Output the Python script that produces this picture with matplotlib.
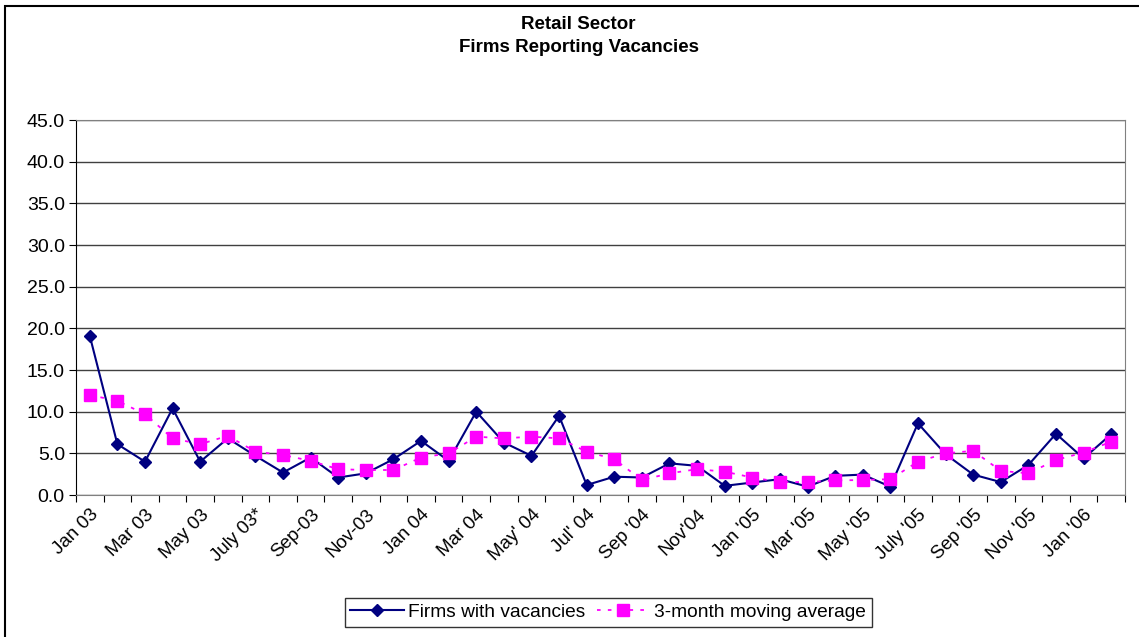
import numpy as np
import matplotlib
matplotlib.use("Agg")
import matplotlib.pyplot as plt
from matplotlib.patches import Rectangle

plt.rcParams['font.family'] = ['Liberation Sans', 'DejaVu Sans']

#  Monthly data, Jan 03 to Feb 06
months = ['Jan 03', 'Feb 03', 'Mar 03', 'Apr 03', 'May 03', 'Jun 03',
          'July 03*', 'Aug 03', 'Sep-03', 'Oct 03', 'Nov-03', 'Dec 03',
          'Jan 04', 'Feb 04', 'Mar 04', 'Apr 04', "May' 04", 'Jun 04',
          "Jul' 04", 'Aug 04', "Sep '04", 'Oct 04', "Nov'04", 'Dec 04',
          "Jan '05", 'Feb 05', "Mar '05", 'Apr 05', "May '05", 'Jun 05',
          "July '05", 'Aug 05', "Sep '05", 'Oct 05', "Nov '05", 'Dec 05',
          "Jan '06", 'Feb 06']

firms = [19.1, 6.1, 4.0, 10.4, 4.0, 6.8, 4.7, 2.7, 4.5, 2.1, 2.6, 4.3,
         6.5, 4.1, 10.0, 6.3, 4.7, 9.5, 1.2, 2.2, 2.1, 3.8, 3.5, 1.1,
         1.5, 1.9, 1.0, 2.3, 2.45, 1.0, 8.6, 4.9, 2.45, 1.55, 3.6, 7.35,
         4.4, 7.3]

moving_avg = [12.0, 11.3, 9.7, 6.8, 6.1, 7.1, 5.2, 4.8, 4.1, 3.1, 3.0, 3.0,
              4.5, 5.0, 7.0, 6.8, 7.0, 6.8, 5.2, 4.3, 1.8, 2.6, 3.1, 2.8,
              2.1, 1.55, 1.55, 1.75, 1.8, 1.9, 4.0, 5.0, 5.3, 2.9, 2.6, 4.2,
              5.1, 6.4]

x = np.arange(len(months))

fig = plt.figure(figsize=(11.39, 6.37), dpi=100)
ax = fig.add_axes([0.0667, 0.2229, 0.9210, 0.5887])

ax.plot(x, firms, color='#000080', lw=1.5, marker='D', ms=6,
        label='Firms with vacancies', zorder=3)
ax.plot(x, moving_avg, color='#FF00FF', lw=1.3, ls=(0, (2, 4)), marker='s',
        ms=8, label='3-month moving average', zorder=4)

ax.set_xlim(-0.5, len(months) - 0.5)
ax.set_ylim(0, 45)
ax.set_yticks(np.arange(0, 46, 5))
ax.set_yticklabels(['%.1f' % v for v in np.arange(0, 46, 5)], fontsize=14)
ax.yaxis.grid(True, color='#404040', lw=1)
ax.set_axisbelow(True)

#  category ticks between points, labels every other month
ax.set_xticks(np.arange(-0.5, len(months), 1.0))
ax.set_xticklabels([])
ax.set_xticks(x[::2], minor=True)
ax.set_xticklabels(months[::2], minor=True, rotation=45, ha='right',
                   rotation_mode='anchor', fontsize=13.5)
ax.tick_params(axis='x', which='minor', length=0, pad=8)
ax.tick_params(axis='x', which='major', length=5, direction='out')
ax.tick_params(axis='y', length=5, direction='out', pad=3)

for s in ['top', 'right']:
    ax.spines[s].set_color('#808080')
ax.spines['left'].set_color('black')
ax.spines['bottom'].set_color('#808080')

fig.text(0.508, 0.962, 'Retail Sector', ha='center', va='center',
         fontsize=13.5, fontweight='bold')
fig.text(0.508, 0.925, 'Firms Reporting Vacancies', ha='center', va='center',
         fontsize=13.5, fontweight='bold')

leg = fig.legend(loc='center', bbox_to_anchor=(0.534, 0.039), ncol=2,
                 fontsize=13.8, frameon=True, fancybox=False, edgecolor='black',
                 handlelength=2.8, columnspacing=0.6, handletextpad=0.2,
                 borderpad=0.3)
leg.get_frame().set_linewidth(1.0)

#  outer chart border
fig.patches.append(Rectangle((0.004, -0.01), 1.2, 1.0, transform=fig.transFigure,
                             fill=False, edgecolor='black', lw=1.5))

fig.savefig('out.png', dpi=100)
